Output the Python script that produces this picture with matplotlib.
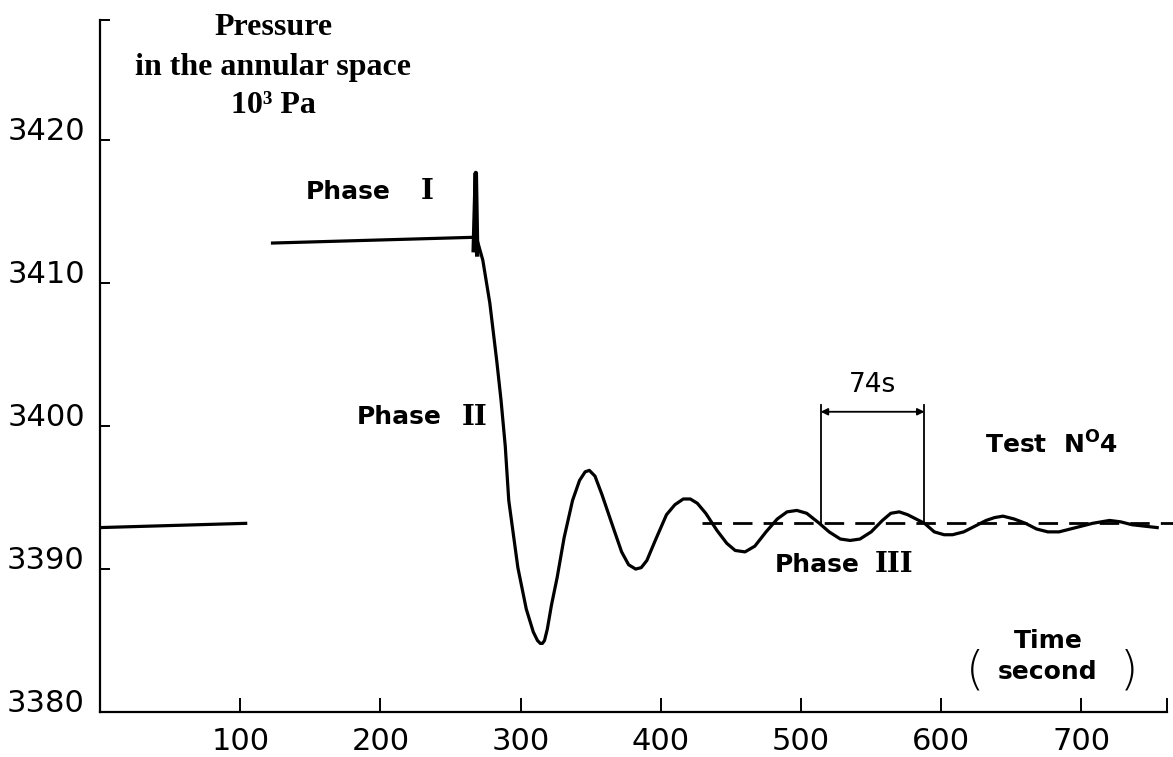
"""
Pressure in the annular space, test no. 4 - phases I/II/III with damped oscillation.
"""
import matplotlib
matplotlib.use("Agg")
import matplotlib.pyplot as plt

# ── data ─────────────────────────────────────────────────────────────────────
t_start = [0, 105]
p_start = [3392.9, 3393.2]

t_phase1 = [123, 266]
p_phase1 = [3412.8, 3413.2]

t_spike = [266.5, 268, 269]
p_spike = [3412.3, 3417.7, 3412.0]

t_trace = [266, 269, 273, 278, 283, 286, 289, 291.5, 298, 304, 309, 312, 314, 315.5,
           317, 319, 322, 326, 331, 337, 342, 346, 349, 353, 358, 366, 372, 377, 382,
           386, 390, 396, 404, 410, 416, 421, 426, 432, 440, 447, 453, 460, 467,
           475, 483, 490, 497, 504, 513, 520, 528, 535, 542, 550, 558, 564, 570,
           576, 582, 588, 595, 602, 608, 616, 624, 632, 638, 644, 652, 660, 668,
           676, 684, 692, 700, 708, 714, 720, 728, 736, 745, 754]
p_trace = [3413.2, 3413.0, 3411.6, 3408.6, 3404.5, 3401.8, 3398.6, 3394.8, 3390.1,
           3387.2, 3385.6, 3385.0, 3384.8, 3384.8, 3385.0, 3385.8, 3387.5, 3389.4,
           3392.2, 3394.8, 3396.2, 3396.8, 3396.9, 3396.5, 3395.2, 3392.9, 3391.2,
           3390.3, 3390.0, 3390.1, 3390.6, 3392.0, 3393.8, 3394.5, 3394.9, 3394.9,
           3394.6, 3393.9, 3392.7, 3391.8, 3391.3, 3391.2, 3391.6, 3392.6, 3393.5,
           3394.0, 3394.1, 3393.9, 3393.2, 3392.6, 3392.1, 3392.0, 3392.1, 3392.6,
           3393.4, 3393.9, 3394.0, 3393.8, 3393.5, 3393.2, 3392.6, 3392.4, 3392.4,
           3392.6, 3393.0, 3393.4, 3393.6, 3393.7, 3393.5, 3393.2, 3392.8, 3392.6,
           3392.6, 3392.8, 3393.0, 3393.2, 3393.3, 3393.4, 3393.3, 3393.1, 3393.0,
           3392.9]

mean_level = 3393.2
mean_from, mean_to = 429, 765
period_t = [514, 588]          # 74 s bracket
period_top = 3401.5
period_arrow = 3401.0

x_ticks = [100, 200, 300, 400, 500, 600, 700]
y_ticks = [3380, 3390, 3400, 3410, 3420]
XMAX, YMAX = 761, 3428.4

# ── figure ───────────────────────────────────────────────────────────────────
fig = plt.figure(figsize=(11.73, 7.57), dpi=100)
ax = fig.add_axes([0.0853, 0.0594, 0.9096, 0.9142])
ax.set_xlim(0, XMAX)
ax.set_ylim(3380, YMAX)

ax.spines["top"].set_visible(False)
ax.spines["right"].set_visible(False)
for s in ("left", "bottom"):
    ax.spines[s].set_linewidth(1.6)

# ticks point inward; extra unlabelled ticks close the axes ends
ax.set_xticks(x_ticks + [XMAX])
ax.set_xticklabels([str(v) for v in x_ticks] + [""])
ax.set_yticks(y_ticks + [YMAX])
ax.set_yticklabels([str(v) for v in y_ticks] + [""])
ax.tick_params(axis="x", direction="in", length=10, width=1.4, pad=11,
               labelsize=22)
ax.tick_params(axis="y", direction="in", length=7, width=1.4, pad=11,
               labelsize=22)
for lab in ax.get_yticklabels():
    lab.set_verticalalignment("baseline")

lw = 2.3
ax.plot(t_start, p_start, color="black", lw=lw, solid_capstyle="butt")
ax.plot(t_phase1, p_phase1, color="black", lw=lw)
ax.plot(t_spike, p_spike, color="black", lw=3.2)
ax.plot(t_trace, p_trace, color="black", lw=lw, solid_joinstyle="round")

ax.plot([mean_from, mean_to], [mean_level, mean_level], color="black", lw=2.0,
        ls=(0, (7, 4)), clip_on=False)

# 74 s period bracket
for t in period_t:
    ax.plot([t, t], [mean_level, period_top], color="black", lw=1.3)
ax.annotate("", xy=(period_t[0], period_arrow), xytext=(period_t[1], period_arrow),
            arrowprops=dict(arrowstyle="<|-|>", color="black", lw=1.3,
                            mutation_scale=10, shrinkA=0, shrinkB=0))
ax.text(sum(period_t) / 2, 3402.9, "74s", ha="center", va="center", fontsize=19)

# labels
serif = dict(family="Liberation Serif", fontweight="bold", fontsize=23,
             ha="center", va="center")
ax.text(123.7, 3427.9, "Pressure", **serif)
ax.text(123.7, 3425.1, "in the annular space", **serif)
ax.text(123.7, 3422.4, "10³ Pa", **serif)

sans = dict(fontweight="bold", fontsize=18, va="center")
roman = dict(family="DejaVu Serif", fontweight="bold", fontsize=20,
             ha="center", va="center")
ax.text(146.6, 3416.4, "Phase", ha="left", **sans)
ax.text(233.4, 3416.4, "I", **roman)
ax.text(183.4, 3400.6, "Phase", ha="left", **sans)
ax.text(267.5, 3400.6, "II", **roman)
ax.text(481.3, 3390.3, "Phase", ha="left", **sans)
ax.text(566.0, 3390.3, "III", **roman)

ax.text(631, 3398.7, r"Test  N$^{\mathbf{O}}$4", ha="left", **sans)

ax.text(676, 3385.0, "Time", ha="center", **sans)
ax.text(676, 3382.8, "second", ha="center", **sans)
ax.text(624, 3382.9, "(", ha="center", va="center", fontsize=34,
        fontweight="light")
ax.text(734, 3382.9, ")", ha="center", va="center", fontsize=34,
        fontweight="light")

fig.savefig("out.png", dpi=100)
plt.close(fig)
